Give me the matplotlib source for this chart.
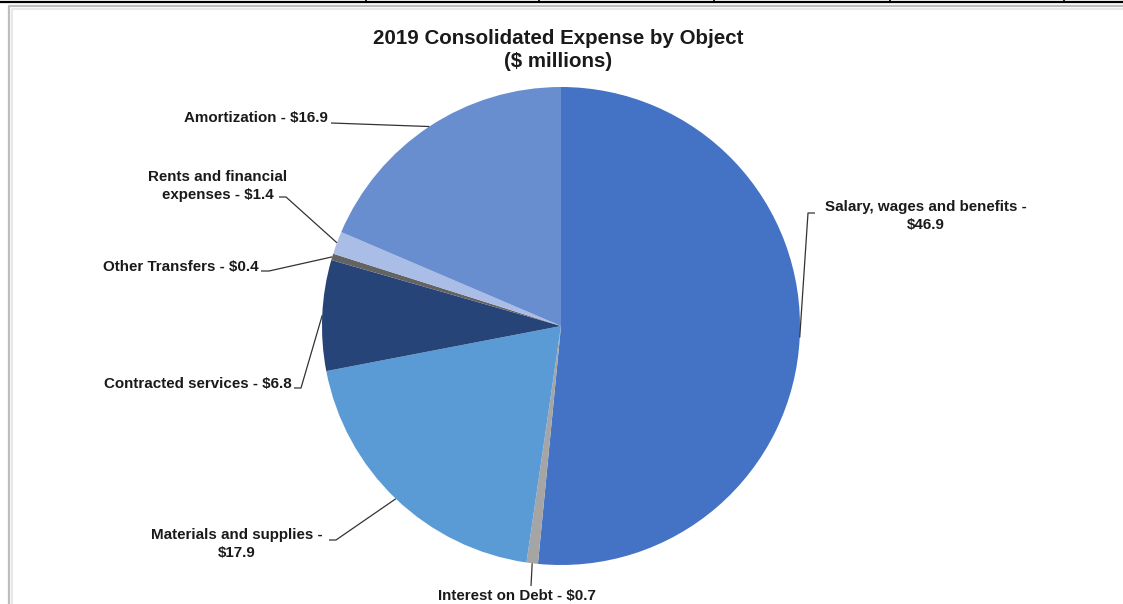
import numpy as np
import matplotlib.pyplot as plt

plt.rcParams['font.family'] = ['Liberation Sans', 'DejaVu Sans']

# expense categories, clockwise from 12 o'clock
categories = ['Salary, wages and benefits', 'Interest on Debt', 'Materials and supplies',
              'Contracted services', 'Other Transfers', 'Rents and financial\nexpenses',
              'Amortization']
values = [46.9, 0.7, 17.9, 6.8, 0.4, 1.4, 16.9]
label_formats = ['{} -\n${}', '{} - ${}', '{} -\n${}', '{} - ${}', '{} - ${}',
                 '{} - ${}', '{} - ${}']
colors = ['#4472C4', '#A5A5A5', '#5B9BD5', '#264478', '#636363', '#A9BDE6', '#698ED0']

W, H = 1123, 604
CX, CY, R = 561, 326, 239   # pie centre and radius in pixels


def to_data(px, py):
    return (px - CX) / R, (CY - py) / R


fig = plt.figure(figsize=(W / 100, H / 100), dpi=100)
ax = fig.add_axes([0, 0, 1, 1])
wedges, _ = ax.pie(values, colors=colors, startangle=90, counterclock=False,
                   radius=1, center=(0, 0), wedgeprops=dict(linewidth=0))
ax.set_aspect('auto')
ax.set_xlim(-CX / R, (W - CX) / R)
ax.set_ylim((CY - H) / R, CY / R)
ax.axis('off')

# label placement: text anchor (px), alignment, then leader elbow and end (px)
label_layout = [
    dict(xy=(926, 216), ha='center', elbow=(808, 213), end=(815, 213)),
    dict(xy=(517, 596), ha='center', elbow=(531, 586), end=(531, 586)),
    dict(xy=(237, 544), ha='center', elbow=(336, 540), end=(329, 540)),
    dict(xy=(292, 384), ha='right', elbow=(301, 388), end=(294, 388)),
    dict(xy=(259, 267), ha='right', elbow=(269, 271), end=(261, 271)),
    dict(xy=(218, 186), ha='center', elbow=(286, 197), end=(279, 197)),
    dict(xy=(328, 118), ha='right', elbow=(331, 123), end=(331, 123)),
]

for w, name, val, fmt, lay in zip(wedges, categories, values, label_formats, label_layout):
    mid = np.deg2rad((w.theta1 + w.theta2) / 2)
    p0 = (np.cos(mid) * w.r, np.sin(mid) * w.r)
    p1 = to_data(*lay['elbow'])
    p2 = to_data(*lay['end'])
    ax.plot([p0[0], p1[0], p2[0]], [p0[1], p1[1], p2[1]], color='#333333',
            lw=0.9, solid_capstyle='butt', zorder=3)
    tx, ty = to_data(*lay['xy'])
    ax.text(tx, ty, fmt.format(name, val), ha=lay['ha'], va='center',
            multialignment='center', fontsize=10.9, fontweight='bold',
            color='#1a1a1a', linespacing=1.42)

tx, ty = to_data(558, 50)
ax.text(tx, ty, '2019 Consolidated Expense by Object\n($ millions)', ha='center',
        va='center', fontsize=14.8, fontweight='bold', color='#1a1a1a', linespacing=1.27)

# surrounding table rule and chart border
def line(xs, ys, **kw):
    d = [to_data(x, y) for x, y in zip(xs, ys)]
    ax.plot([p[0] for p in d], [p[1] for p in d], clip_on=False, **kw)

line([0, W], [1.5, 1.5], color='black', lw=1.6)
for x in [366, 539, 714, 890, 1064]:
    line([x, x], [0, 2], color='black', lw=1.2)
line([9, 9, W], [H, 6, 6], color='#bdbdbd', lw=1.6, solid_joinstyle='round')
line([11.5, 11.5, W], [H, 8.5, 8.5], color='#e4e4e4', lw=1.2)

fig.savefig('out.png', dpi=100)
